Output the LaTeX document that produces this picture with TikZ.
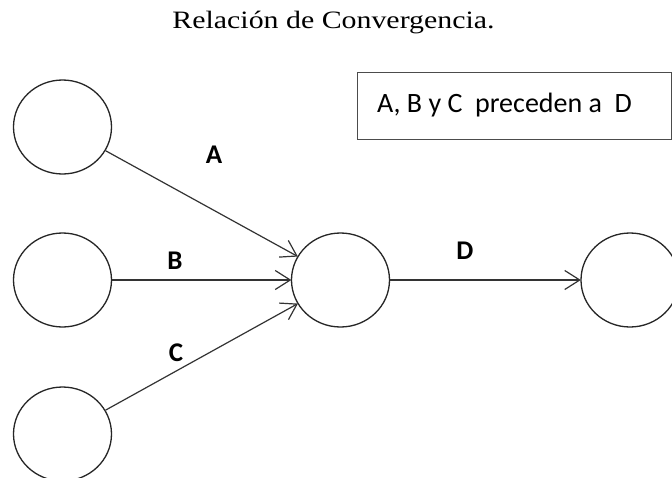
\documentclass[tikz,border=0pt]{standalone}
\usepackage{fontspec}
\usepackage{graphicx}
\setmainfont{Liberation Serif}
\newfontfamily\calib{Carlito}
\usetikzlibrary{arrows.meta,shapes.geometric}
\tikzset{
  evt/.style={ellipse, draw=black!85, line width=1.3pt, minimum width=98pt, minimum height=94pt, inner sep=0pt},
  act/.style={draw=black!80, line width=1.2pt, -{Straight Barb[length=15pt,width=19pt,line width=1.2pt]}, shorten >=-0.5pt},
  lbl/.style={font=\calib\bfseries\fontsize{27}{30}\selectfont, inner sep=0pt},
}
\begin{document}
\begin{tikzpicture}[x=1pt,y=-1pt]
\useasboundingbox (0,0) rectangle (672,477);
\clip (0,0) rectangle (672,477);
\fill[white] (0,0) rectangle (672,477);
% title
\node[anchor=base, inner sep=0pt] (title) at (333.5,28) {\resizebox{322pt}{\height}{\fontsize{25}{29}\selectfont Relación de Convergencia.}};
% legend box
\node[draw=black!70, line width=1.3pt, anchor=north west, minimum width=314pt, minimum height=67pt, inner sep=0pt] (box) at (357,72) {};
\node[anchor=base west, inner sep=0pt, font=\calib\fontsize{28}{32}\selectfont] (boxtext) at (377,112) {A, B y C\ \ preceden a\ \ D};
% events
\node[evt] (e1) at (62.5,127) {};
\node[evt] (e2) at (62.5,280) {};
\node[evt] (e3) at (62.5,434) {};
\node[evt] (e4) at (340.5,280) {};
\node[evt] (e5) at (630,280) {};
% activities
\draw[act] (e1) -- (e4);
\draw[act] (e2) -- (e4);
\draw[act] (e3) -- (e4);
\draw[act] (e4) -- (e5);
% labels
\node[lbl] (la) at (214,155) {A};
\node[lbl] (lb) at (175,260.5) {B};
\node[lbl] (lc) at (176,353) {C};
\node[lbl] (ld) at (465,251) {D};
\end{tikzpicture}
\end{document}
